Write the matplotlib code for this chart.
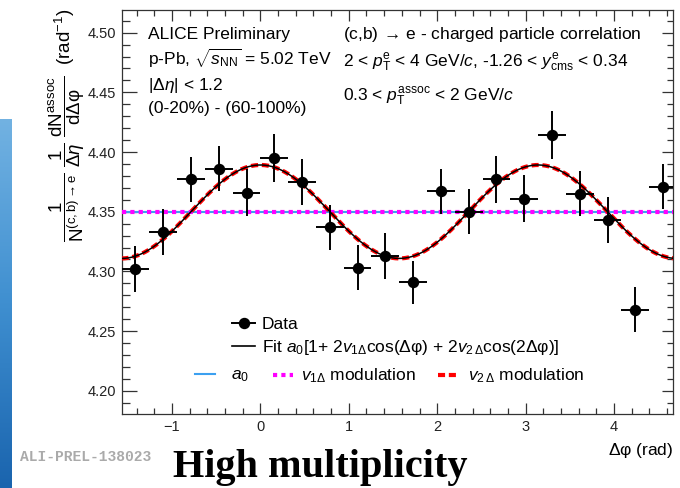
import numpy as np
import matplotlib
matplotlib.use("Agg")
import matplotlib.pyplot as plt
from matplotlib.lines import Line2D
from matplotlib.legend import Legend
from matplotlib.ticker import MultipleLocator, FormatStrFormatter

plt.rcParams['font.family'] = ['Liberation Sans', 'DejaVu Sans']
plt.rcParams['mathtext.fontset'] = 'custom'
plt.rcParams['mathtext.rm'] = 'Liberation Sans'
plt.rcParams['mathtext.it'] = 'Liberation Sans:italic'
plt.rcParams['mathtext.bf'] = 'Liberation Sans:bold'
plt.rcParams['mathtext.sf'] = 'Liberation Sans'

# Daten
n_bins = 20
bin_width = np.pi / 10
dphi = -np.pi / 2 + bin_width * (np.arange(n_bins) + 0.5)
yield_vals = [4.302, 4.333, 4.377, 4.386, 4.366, 4.395, 4.375, 4.337, 4.303, 4.313,
              4.291, 4.367, 4.350, 4.377, 4.361, 4.414, 4.365, 4.343, 4.268, 4.371]
yield_err = [0.019, 0.019, 0.019, 0.019, 0.020, 0.020, 0.019, 0.019, 0.019, 0.019,
             0.018, 0.019, 0.019, 0.020, 0.020, 0.020, 0.019, 0.019, 0.019, 0.019]

# Fitparameter
a0 = 4.350
v1 = 0.0
v2 = 0.0045

W, H = 680, 488


def fx(px):
    return px / W


def fy(py):
    return 1 - py / H


fig = plt.figure(figsize=(W / 100, H / 100), dpi=100)

# blauer Streifen links (Folienrand)
strip = fig.add_axes([0, 0, fx(12), fy(119)])
grad = np.linspace(0, 1, 256).reshape(-1, 1)
strip.imshow(grad, aspect='auto', cmap=matplotlib.colors.LinearSegmentedColormap.from_list(
    'strip', ['#1a64ae', '#3f8fd0', '#72b2e2']), origin='lower')
strip.axis('off')

ax = fig.add_axes([fx(122), fy(414), fx(673) - fx(122), fy(10) - fy(414)])

xfine = np.linspace(-np.pi / 2, 3 * np.pi / 2, 500)
ax.plot(xfine, np.full_like(xfine, a0), color='#3ca0f0', lw=1.5, zorder=2)
ax.plot(xfine, a0 * (1 + 2 * v1 * np.cos(xfine)), color='#ff00ff', lw=3,
        linestyle=(0, (1, 1)), zorder=3)
ax.plot(xfine, a0 * (1 + 2 * v2 * np.cos(2 * xfine)), color='#ff0000', lw=3,
        linestyle=(0, (1.7, 0.9)), zorder=4)
ax.plot(xfine, a0 * (1 + 2 * v1 * np.cos(xfine) + 2 * v2 * np.cos(2 * xfine)),
        color='black', lw=1.1, zorder=5)

ax.errorbar(dphi, yield_vals, yerr=yield_err, xerr=bin_width / 2, fmt='o',
            color='black', ms=7.2, elinewidth=1.4, capsize=0, zorder=6)

ax.set_xlim(-1.566, 4.668)
ax.set_ylim(4.1805, 4.519)
ax.xaxis.set_major_locator(MultipleLocator(1))
ax.xaxis.set_minor_locator(MultipleLocator(0.2))
ax.yaxis.set_major_locator(MultipleLocator(0.05))
ax.yaxis.set_minor_locator(MultipleLocator(0.01))
ax.yaxis.set_major_formatter(FormatStrFormatter('%.2f'))

ax.tick_params(which='both', direction='in', top=True, right=True,
               color='#333333', labelsize=10.5, labelcolor='#222222')
ax.tick_params(which='major', length=8, width=0.9, pad=4)
ax.tick_params(which='minor', length=4, width=0.9)
for t in ax.yaxis.get_major_ticks():
    t.tick1line.set_markersize(11)
for t in ax.yaxis.get_minor_ticks():
    t.tick1line.set_markersize(5.8)
for sp in ax.spines.values():
    sp.set_color('#333333')
    sp.set_linewidth(0.9)

# Achsenbeschriftungen
fig.text(fx(673), fy(450), r'$\mathrm{\Delta\varphi}$ (rad)', ha='right', va='center',
         fontsize=12.5)
fig.text(fx(67), fy(9),
         r'$\dfrac{1}{\mathrm{N^{(c,b)\rightarrow e}}}\ \dfrac{1}{\Delta\eta}\ '
         r'\dfrac{\mathrm{dN^{assoc}}}{\mathrm{d\Delta\varphi}}$  (rad$^{-1}$)',
         rotation=90, ha='center', va='top', fontsize=13.5)

# Texte im Plot
fs = 12.5
fig.text(fx(148), fy(39), 'ALICE Preliminary', fontsize=fs, va='baseline')
fig.text(fx(148), fy(65), r'p-Pb, $\sqrt{s_{\mathrm{NN}}}$ = 5.02 TeV', fontsize=fs,
         va='baseline')
fig.text(fx(148), fy(90), r'|$\Delta\eta$| < 1.2', fontsize=fs, va='baseline')
fig.text(fx(148), fy(113), '(0-20%) - (60-100%)', fontsize=fs, va='baseline')
fig.text(fx(343), fy(39), r'(c,b)$\,\rightarrow\,$e - charged particle correlation',
         fontsize=fs, va='baseline')
fig.text(fx(343), fy(67),
         r'2 < $p_{\mathrm{T}}^{\mathrm{e}}$ < 4 GeV/$c$, -1.26 < $y_{\mathrm{cms}}^{\mathrm{e}}$ < 0.34',
         fontsize=fs, va='baseline')
fig.text(fx(343), fy(101), r'0.3 < $p_{\mathrm{T}}^{\mathrm{assoc}}$ < 2 GeV/$c$',
         fontsize=fs, va='baseline')


# Legenden
def legend_at(handles, labels, x_px, y_px, hl=1.15, pad=0.5, spacing=0.3):
    leg = Legend(ax, handles, labels, loc='center left',
                 bbox_to_anchor=(fx(x_px), fy(y_px)), bbox_transform=fig.transFigure,
                 frameon=False, fontsize=fs, handlelength=hl, handletextpad=pad,
                 borderpad=0, borderaxespad=0, labelspacing=spacing)
    ax.add_artist(leg)
    return leg


h_data = Line2D([], [], color='black', marker='o', ms=7.2, lw=1.4)
h_fit = Line2D([], [], color='black', lw=1.2)
legend_at([h_data, h_fit],
          ['Data', r'Fit $a_0$[1+ 2$v_{1\Delta}$cos($\mathrm{\Delta\varphi}$) + '
                   r'2$v_{2\,\Delta}$cos(2$\mathrm{\Delta\varphi}$)]'],
          232, 337, hl=1.35, pad=0.35, spacing=0.3)
legend_at([Line2D([], [], color='#3ca0f0', lw=1.5)], [r'$a_0$'], 195, 376, hl=1.15, pad=0.9)
legend_at([Line2D([], [], color='#ff00ff', lw=3, linestyle=(0, (1, 1)))],
          [r'$v_{1\Delta}$ modulation'], 273, 376, hl=1.15, pad=0.45)
legend_at([Line2D([], [], color='#ff0000', lw=3, linestyle=(0, (1.7, 0.9)))],
          [r'$v_{2\,\Delta}$ modulation'], 438, 376, hl=1.15, pad=0.55)

# Texte unterhalb
fig.text(fx(20), fy(457), 'ALI-PREL-138023', family='Liberation Mono', fontsize=10.5,
         color='#aaaaaa', weight='bold', va='center')
fig.text(fx(173), fy(477), 'High multiplicity', family='Liberation Serif', fontsize=29,
         weight='bold', va='baseline')

fig.savefig('out.png', dpi=100)
